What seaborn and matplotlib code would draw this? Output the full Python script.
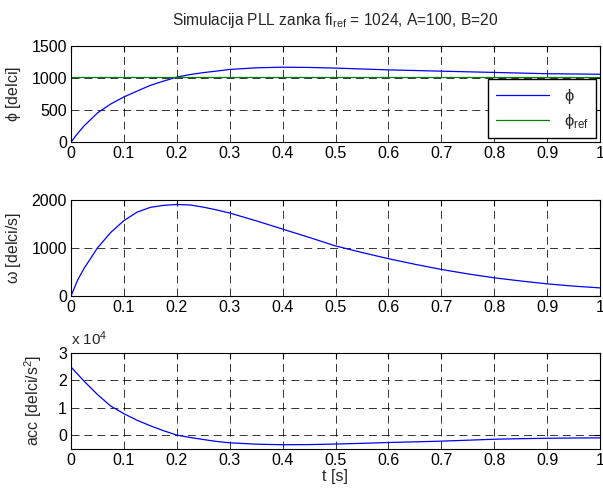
import matplotlib
matplotlib.use('Agg')
import matplotlib.pyplot as plt
import seaborn as sns
from matplotlib.ticker import FuncFormatter

# values
t = [0.0, 0.0125, 0.025, 0.05, 0.075, 0.1, 0.125, 0.15, 0.175, 0.2, 0.225, 0.25, 0.275, 0.3, 0.35, 0.4, 0.45,
     0.5, 0.55, 0.6, 0.65, 0.7, 0.75, 0.8, 0.85, 0.9, 0.95, 1.0]
phi = [0, 135, 255, 455, 595, 705, 797, 886, 953, 1015, 1055, 1085, 1109, 1135, 1160, 1170, 1166,
       1156, 1142, 1128, 1118, 1108, 1098, 1088, 1078, 1068, 1064, 1060]
phi_ref = [1024] * len(t)
omega = [0, 330, 580, 1000, 1322, 1569, 1746, 1845, 1887, 1905, 1895, 1850, 1792, 1727, 1565, 1392, 1220,
         1042, 905, 776, 660, 552, 460, 378, 312, 252, 205, 168]
acc = [24800, 22200, 19600, 14800, 10600, 7800, 5400, 3400, 1600, 0, -850, -1600, -2300, -2800, -3300, -3500, -3450,
       -3250, -3000, -2700, -2450, -2200, -1850, -1500, -1300, -1150, -1050, -1000]
x_ticks = [0, 0.1, 0.2, 0.3, 0.4, 0.5, 0.6, 0.7, 0.8, 0.9, 1]

sns.set_style('white')
plt.rcParams['font.family'] = ['Liberation Sans', 'DejaVu Sans']
plt.rcParams['font.size'] = 11.5
plt.rcParams['mathtext.fontset'] = 'custom'
plt.rcParams['mathtext.rm'] = 'Liberation Sans'
plt.rcParams['mathtext.it'] = 'Liberation Sans'

fig = plt.figure(figsize=(6.03, 4.9), dpi=100)
left, width = 71 / 603, 529 / 603
ax1 = fig.add_axes([left, 0.710, width, 0.196])
ax2 = fig.add_axes([left, 0.396, width, 0.196])
ax3 = fig.add_axes([left, 0.084, width, 0.196])

sns.lineplot(x=t, y=phi, color='#0000ff', lw=0.9, ax=ax1, label=r'$\phi$', sort=False, estimator=None)
sns.lineplot(x=t, y=phi_ref, color='#008000', lw=0.9, ax=ax1, label=r'$\phi_{ref}$', sort=False, estimator=None)
sns.lineplot(x=t, y=omega, color='#0000ff', lw=0.9, ax=ax2, sort=False, estimator=None)
sns.lineplot(x=t, y=acc, color='#0000ff', lw=0.9, ax=ax3, sort=False, estimator=None)

ax1.set_ylim(0, 1500)
ax1.set_yticks([0, 500, 1000, 1500])
ax2.set_ylim(0, 2000)
ax2.set_yticks([0, 1000, 2000])
ax3.set_ylim(-5000, 30000)
ax3.set_yticks([0, 10000, 20000, 30000])
ax3.yaxis.set_major_formatter(FuncFormatter(lambda v, p: f'{v / 1e4:g}'))
ax3.text(0.0, 1.05, r'x 10$^4$', transform=ax3.transAxes, ha='left', va='bottom', fontsize=11)

for ax in (ax1, ax2, ax3):
    ax.set_xlim(0, 1)
    ax.set_xticks(x_ticks)
    ax.set_xticklabels([f'{v:g}' for v in x_ticks])
    ax.grid(True, color='black', linestyle=(0, (8.2, 5.1)), lw=0.7, alpha=0.8)
    ax.tick_params(direction='in', length=4, width=0.8, top=True, right=True, pad=3, colors='black')
    for s in ax.spines.values():
        s.set_color('black')
        s.set_linewidth(0.8)

ax1.set_ylabel(r'$\phi$ [delci]', labelpad=6)
ax2.set_ylabel(r'$\omega$ [delci/s]', labelpad=6)
ax3.set_ylabel(r'acc [delci/s$^2$]', labelpad=10)
ax3.set_xlabel('t [s]', labelpad=1)
ax1.set_title(r'Simulacija PLL zanka fi$_{ref}$ = 1024, A=100, B=20', fontsize=11.2, pad=15)

leg = ax1.legend(loc='lower right', bbox_to_anchor=(0.993, 0.04), frameon=True, fancybox=False, framealpha=1,
                 edgecolor='black', borderpad=0.45, handlelength=3.2, handletextpad=0.9,
                 labelspacing=0.35, fontsize=12, borderaxespad=0)
leg.get_frame().set_linewidth(1.0)

fig.savefig('out.png', dpi=100)
